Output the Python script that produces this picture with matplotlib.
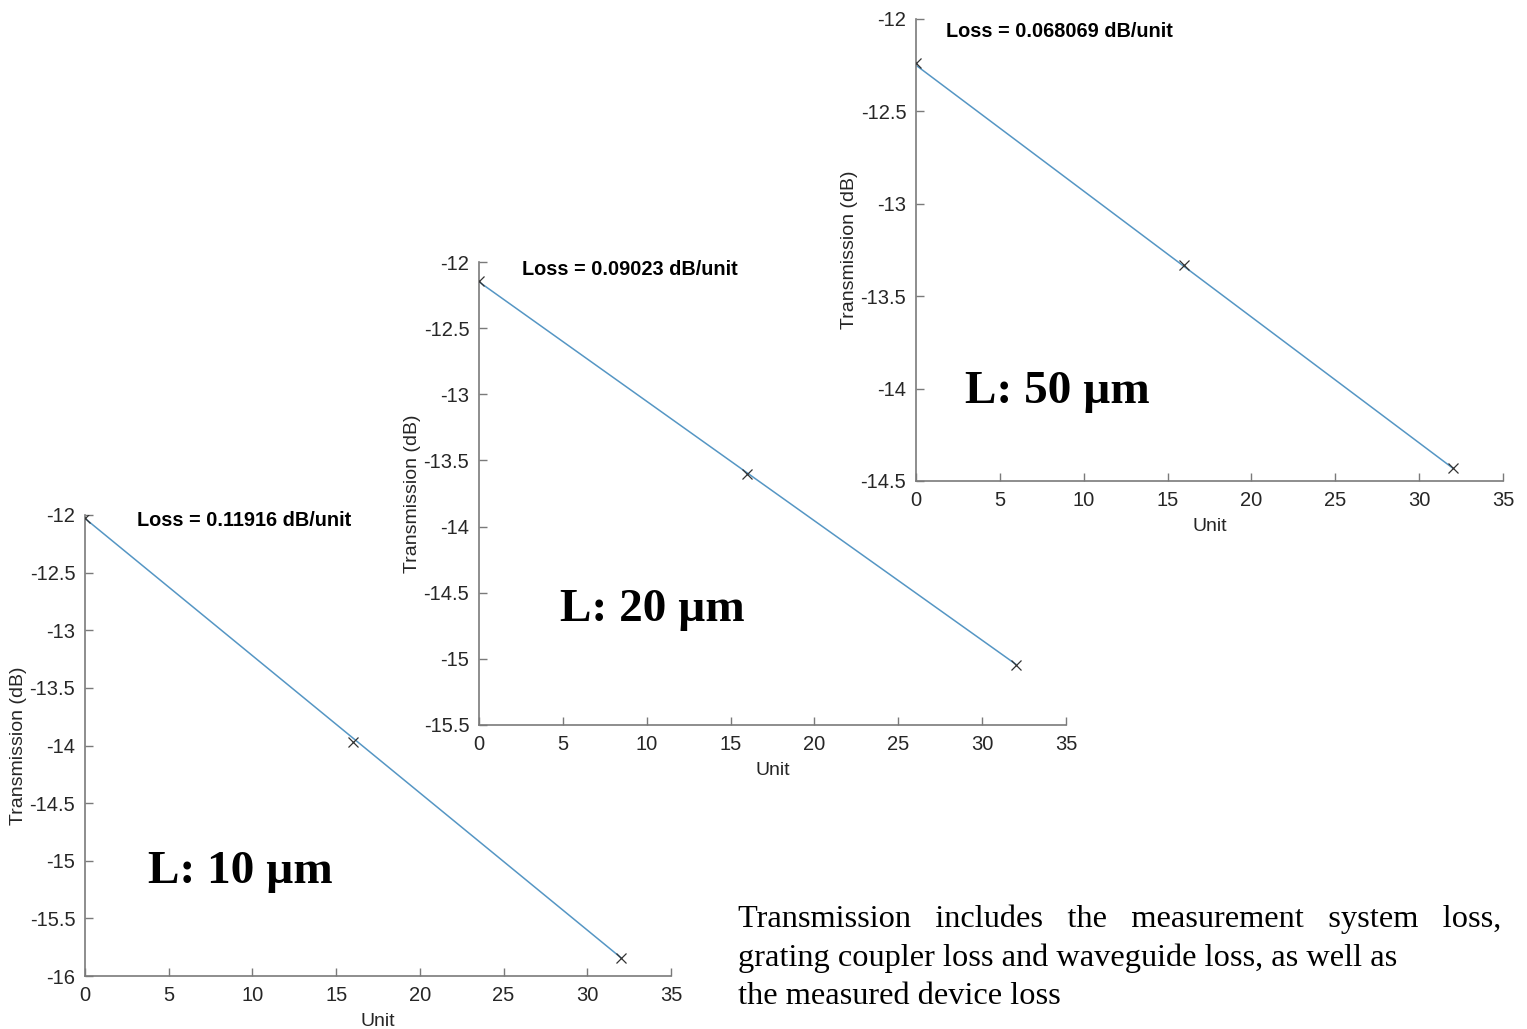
import matplotlib.pyplot as plt
import numpy as np

unit_pts = [0, 16, 32]
trans_10um = [-12.03, -13.97, -15.84]
trans_20um = [-12.14, -13.60, -15.05]
trans_50um = [-12.24, -13.33, -14.43]

# 拟合直线端点
fit_x = [0, 32]
fit_10um = [-12.03, -15.84]
fit_20um = [-12.15, -15.04]
fit_50um = [-12.25, -14.43]

loss_labels = ['Loss = 0.11916 dB/unit', 'Loss = 0.09023 dB/unit', 'Loss = 0.068069 dB/unit']
length_labels = ['L: 10 µm', 'L: 20 µm', 'L: 50 µm']
ylims = [(-16, -12), (-15.5, -12), (-14.5, -12)]
yticks = [np.arange(-16, -11.9, 0.5), np.arange(-15.5, -11.9, 0.5), np.arange(-14.5, -11.9, 0.5)]

# 说明文字（第一行两端对齐，用多个空格撑开）
note_lines = ['Transmission   includes   the   measurement   system   loss,',
              'grating coupler loss and waveguide loss, as well as',
              'the measured device loss']

W, H = 1527, 1029
fig = plt.figure(figsize=(W / 100, H / 100), dpi=100)

# 各子图位置 (像素 -> 比例)
boxes = [(85, 515, 671, 976), (479, 262, 1066, 725), (916, 19, 1503, 481)]
loss_pos = [(3.1, -12.05), (2.56, -12.06), (1.79, -12.065)]
len_pos = [(3.76, -15.1), (4.83, -14.63), (2.92, -14.02)]

meas = [trans_10um, trans_20um, trans_50um]
fits = [fit_10um, fit_20um, fit_50um]

spine_c = '#7a7a7a'
text_c = '#262626'

for i in range(3):
    x0, y0, x1, y1 = boxes[i]
    ax = fig.add_axes([x0 / W, 1 - y1 / H, (x1 - x0) / W, (y1 - y0) / H])
    ax.patch.set_alpha(0)
    ax.plot(fit_x, fits[i], color='#5596c4', lw=1.1, zorder=2)
    ax.plot(unit_pts, meas[i], ls='none', marker='x', ms=7, mew=0.9, color='#333333', zorder=3)
    ax.set_xlim(0, 35)
    ax.set_ylim(*ylims[i])
    ax.set_xticks(np.arange(0, 36, 5))
    ax.set_yticks(yticks[i])
    ax.set_xticklabels([f'{v:g}' for v in np.arange(0, 36, 5)])
    ax.set_yticklabels([f'{v:g}' for v in yticks[i]])
    for s in ['top', 'right']:
        ax.spines[s].set_visible(False)
    for s in ['left', 'bottom']:
        ax.spines[s].set_color(spine_c)
        ax.spines[s].set_linewidth(1.2)
    ax.tick_params(direction='in', length=6, width=1, color=spine_c, labelcolor=text_c,
                   labelsize=14.5, pad=7)
    for lab in ax.get_xticklabels() + ax.get_yticklabels():
        lab.set_family('Liberation Sans')
    ax.set_xlabel('Unit', fontsize=14, color=text_c, family='Liberation Sans', labelpad=6)
    ax.set_ylabel('Transmission (dB)', fontsize=14, color=text_c, family='Liberation Sans', labelpad=2)
    ax.text(loss_pos[i][0], loss_pos[i][1], loss_labels[i], fontsize=14.3, fontweight='bold',
            family='Liberation Sans', color='black', ha='left', va='center')
    ax.text(len_pos[i][0], len_pos[i][1], length_labels[i], fontsize=34, fontweight='bold',
            family='Liberation Serif', color='black', ha='left', va='center')

for k, line in enumerate(note_lines):
    fig.text(738 / W, 1 - (919 + 39 * k) / H, line, fontsize=23.3, family='Liberation Serif',
             color='black', ha='left', va='center')

fig.savefig('out.png', dpi=100)
